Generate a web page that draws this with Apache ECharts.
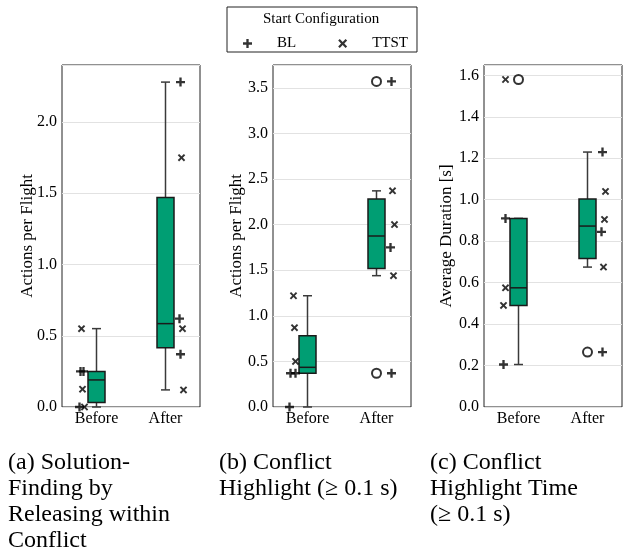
<!DOCTYPE html>
<html>
<head>
<meta charset="utf-8">
<script src="https://cdn.jsdelivr.net/npm/echarts@6/dist/echarts.min.js"></script>
<style>
  html, body { margin: 0; padding: 0; background: #fff; }
  #chart { width: 624px; height: 553px; }
</style>
</head>
<body>
<div id="chart"></div>
<script>
const categories = ["Before", "After"];

// box stats per panel: [min, q1, median, q3, max] for Before / After
const boxA = [[0, 0.031, 0.19, 0.25, 0.55], [0.12, 0.415, 0.585, 1.47, 2.28]];
const boxB = [[0, 0.37, 0.435, 0.78, 1.22], [1.44, 1.52, 1.875, 2.28, 2.37]];
const boxC = [[0.205, 0.49, 0.575, 0.91, 0.91], [0.675, 0.716, 0.873, 1.003, 1.23]];

// fliers (open circles) per panel, Before / After
const outA = [[], []];
const outB = [[], [3.57, 0.37]];
const outC = [[1.58], [0.265]];

// raw points by start configuration, Before / After
const blA   = [[0.25, 0.25, 0.0], [2.28, 0.62, 0.37]];
const ttstA = [[0.55, 0.125, 0.0], [1.75, 0.55, 0.12]];
const blB   = [[0.37, 0.37, 0.0], [3.57, 1.75, 0.37]];
const ttstB = [[1.22, 0.87, 0.5], [2.37, 2.0, 1.44]];
const blC   = [[0.91, 0.205], [1.23, 0.845, 0.265]];
const ttstC = [[1.58, 0.575, 0.49], [1.04, 0.905, 0.675]];

// strip jitter (px) so overlapping points stay visible
const jitBlA   = [[-16, -13, -17], [15, 14, 15]];
const jitTtstA = [[-15, -14, -12], [16, 17, 18]];
const jitBlB   = [[-17, -12, -18], [15, 14, 15]];
const jitTtstB = [[-14, -13, -12], [16, 18, 17]];
const jitBlC   = [[-13, -15], [15, 14, 15]];
const jitTtstC = [[-13, -13, -15], [18, 17, 16]];

const yMax = [2.4, 3.75, 1.65];
const yStep = [0.5, 0.5, 0.2];
const yNames = ["Actions per Flight", "Actions per Flight", "Average Duration [s]"];
const captions = [
  "(a) Solution-\nFinding by\nReleasing within\nConflict",
  "(b) Conflict\nHighlight (\u2265 0.1 s)",
  "(c) Conflict\nHighlight Time\n(\u2265 0.1 s)"
];

const FONT = "Liberation Serif";
const PLUS = "path://M3.7,0H6.3V3.7H10V6.3H6.3V10H3.7V6.3H0V3.7H3.7Z";
const CROSS = "path://M0,1.8L1.8,0L5,3.2L8.2,0L10,1.8L6.8,5L10,8.2L8.2,10L5,6.8L1.8,10L0,8.2L3.2,5Z";

const panels = [
  { box: boxA, out: outA, bl: blA, tt: ttstA, jbl: jitBlA, jtt: jitTtstA },
  { box: boxB, out: outB, bl: blB, tt: ttstB, jbl: jitBlB, jtt: jitTtstB },
  { box: boxC, out: outC, bl: blC, tt: ttstC, jbl: jitBlC, jtt: jitTtstC }
];
const lefts = [62, 273, 484];
const capLefts = [8, 219, 430];
const nameGaps = [26, 28, 29];

function pts(groups, jit){
  const r = [];
  groups.forEach((vals, ci) => {
    vals.forEach((v, k) => r.push({ value: [ci, v], symbolOffset: [jit[ci][k], 0] }));
  });
  return r;
}

// box with half-width whisker caps, like seaborn draws it
function renderBox(params, api){
  const ci = api.value(0);
  const lo = api.coord([ci, api.value(1)]);
  const q1 = api.coord([ci, api.value(2)]);
  const md = api.coord([ci, api.value(3)]);
  const q3 = api.coord([ci, api.value(4)]);
  const hi = api.coord([ci, api.value(5)]);
  const x = lo[0], hw = 8.5, cw = 4.5;
  const wStyle = { stroke: "#3a3a3a", lineWidth: 1.5 };
  const bStyle = { stroke: "#1a1a1a", lineWidth: 1.5 };
  return {
    type: "group",
    children: [
      { type: "line", shape: { x1: x, y1: q3[1], x2: x, y2: hi[1] }, style: wStyle },
      { type: "line", shape: { x1: x - cw, y1: hi[1], x2: x + cw, y2: hi[1] }, style: wStyle },
      { type: "line", shape: { x1: x, y1: q1[1], x2: x, y2: lo[1] }, style: wStyle },
      { type: "line", shape: { x1: x - cw, y1: lo[1], x2: x + cw, y2: lo[1] }, style: wStyle },
      { type: "rect", shape: { x: x - hw, y: q3[1], width: 2 * hw, height: q1[1] - q3[1] },
        style: { fill: "#009e73", stroke: "#1a1a1a", lineWidth: 1.5 } },
      { type: "line", shape: { x1: x - hw, y1: md[1], x2: x + hw, y2: md[1] }, style: bStyle }
    ]
  };
}

const grid = [], xAxis = [], yAxis = [], series = [], title = [];

panels.forEach((p, i) => {
  grid.push({
    left: lefts[i], top: 65, width: 138, height: 342,
    show: true, borderColor: "#222", borderWidth: 1, backgroundColor: "transparent"
  });
  xAxis.push({
    type: "category", gridIndex: i, data: categories,
    axisLine: { show: false }, axisTick: { show: false },
    axisLabel: { fontFamily: FONT, fontSize: 16, color: "#000", margin: 4 }
  });
  yAxis.push({
    type: "value", gridIndex: i, min: 0, max: yMax[i], interval: yStep[i],
    name: yNames[i], nameLocation: "middle", nameGap: nameGaps[i], nameMoveOverlap: false,
    nameTextStyle: { fontFamily: FONT, fontSize: 17, color: "#000" },
    axisLine: { show: false }, axisTick: { show: false },
    axisLabel: { fontFamily: FONT, fontSize: 16, color: "#000", margin: 5,
      showMaxLabel: false, formatter: v => v.toFixed(1) },
    splitLine: { lineStyle: { color: "#e2e2e2", width: 1 } }
  });

  series.push({
    type: "custom", xAxisIndex: i, yAxisIndex: i, z: 2,
    renderItem: renderBox,
    encode: { x: 0, y: [1, 2, 3, 4, 5] },
    data: p.box.map((b, ci) => [ci].concat(b))
  });
  const fl = [];
  p.out.forEach((vals, ci) => vals.forEach(v => fl.push([ci, v])));
  series.push({
    type: "scatter", xAxisIndex: i, yAxisIndex: i, z: 3,
    symbol: "emptyCircle", symbolSize: 9,
    itemStyle: { color: "#000", borderWidth: 1.1 },
    data: fl
  });
  series.push({
    name: "BL", type: "scatter", xAxisIndex: i, yAxisIndex: i, z: 4,
    symbol: PLUS, symbolSize: 9, itemStyle: { color: "#000" },
    data: pts(p.bl, p.jbl)
  });
  series.push({
    name: "TTST", type: "scatter", xAxisIndex: i, yAxisIndex: i, z: 4,
    symbol: CROSS, symbolSize: 7.5, itemStyle: { color: "#000" },
    data: pts(p.tt, p.jtt)
  });

  title.push({
    text: captions[i], left: capLefts[i], top: 450, padding: 0,
    textStyle: { fontFamily: FONT, fontSize: 24, fontWeight: "normal", lineHeight: 26, color: "#000" }
  });
});

title.push({
  text: "Start Configuration", left: 263, top: 12, padding: 0,
  textStyle: { fontFamily: FONT, fontSize: 15, fontWeight: "normal", color: "#000" }
});

const chart = echarts.init(document.getElementById("chart"));
chart.setOption({
  animation: false,
  title: title,
  legend: {
    left: 227, top: 7,
    padding: [29, 9, 1, 16],
    borderColor: "#222", borderWidth: 1,
    itemWidth: 9, itemHeight: 9, itemGap: 42,
    textStyle: { fontFamily: FONT, fontSize: 15, color: "#000", padding: [0, 0, 0, 20] },
    data: [{ name: "BL", icon: PLUS }, { name: "TTST", icon: CROSS }]
  },
  grid: grid,
  xAxis: xAxis,
  yAxis: yAxis,
  series: series
});
</script>
</body>
</html>
